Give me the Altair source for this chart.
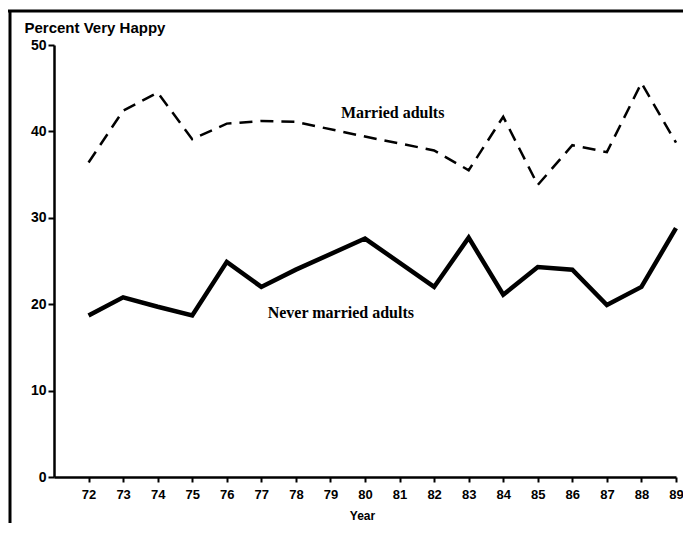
import altair as alt
import pandas as pd

# Survey years (no survey in 1979 and 1981)
years = [72, 73, 74, 75, 76, 77, 78, 80, 82, 83, 84, 85, 86, 87, 88, 89]
married = [36.4, 42.4, 44.5, 39.1, 40.9, 41.2, 41.1, 39.4, 37.8, 35.5, 41.7, 33.8, 38.4, 37.6, 45.6, 38.7]
never_married = [18.7, 20.8, 19.7, 18.7, 24.9, 22.0, 24.0, 27.6, 22.0, 27.7, 21.1, 24.3, 24.0, 19.9, 22.0, 28.8]

tick_years = list(range(72, 90))
y_ticks = [0, 10, 20, 30, 40, 50]

label_text = ["Married adults", "Never married adults"]
label_x = [80.8, 79.3]
label_y = [42.1, 19.0]

df = pd.DataFrame({
    "Year": years * 2,
    "Percent": married + never_married,
    "Group": ["Married adults"] * len(years) + ["Never married adults"] * len(years),
})
labels = pd.DataFrame({"text": label_text, "Year": label_x, "Percent": label_y})

x_scale = alt.Scale(domain=[71, 89], nice=False, zero=False)
y_scale = alt.Scale(domain=[0, 50], nice=False)

x_axis = alt.Axis(
    values=tick_years, title="Year", labelFont="Liberation Sans", labelFontWeight="bold",
    labelFontSize=13, labelColor="black", tickColor="black", tickSize=5, tickWidth=2,
    domainColor="black", domainWidth=2.5, labelPadding=6, grid=False,
    labelOverlap=False, labelFlush=False, tickCount=18,
    titleFont="Liberation Sans", titleFontWeight="bold", titleFontSize=12, titleColor="black",
    titleX=308, titleY=38, titleAlign="center", titleBaseline="middle",
)
y_axis = alt.Axis(
    values=y_ticks, title="Percent Very Happy", labelFont="Liberation Sans", labelFontWeight="bold",
    labelFontSize=14, labelColor="black", tickColor="black", tickSize=6, tickWidth=2,
    domainColor="black", domainWidth=2.5, labelPadding=2, grid=False,
    labelOverlap=False, labelFlush=False,
    titleFont="Liberation Sans", titleFontWeight="bold", titleFontSize=15, titleColor="black",
    titleAngle=0, titleX=-30, titleY=-13, titleAlign="left", titleBaseline="alphabetic",
)

X = alt.X("Year:Q", scale=x_scale, axis=x_axis)
Y = alt.Y("Percent:Q", scale=y_scale, axis=y_axis)

base = alt.Chart(df)

married_line = base.transform_filter(alt.datum.Group == "Married adults").mark_line(
    color="black", strokeWidth=2.5, strokeDash=[13, 8]
).encode(x=X, y=Y)

never_line = base.transform_filter(alt.datum.Group == "Never married adults").mark_line(
    color="black", strokeWidth=4.5, strokeJoin="miter"
).encode(x=X, y=Y)

text = alt.Chart(labels).mark_text(
    font="Liberation Serif", fontWeight="bold", fontSize=16, color="black",
    align="center", baseline="middle",
).encode(x=X, y=Y, text="text:N")

# scanned page frame (left and top edges)
frame_left = alt.Chart(pd.DataFrame({"a": [0]})).mark_rule(color="black", strokeWidth=3).encode(
    x=alt.value(-44), y=alt.value(-34), y2=alt.value(478)
)
frame_top = alt.Chart(pd.DataFrame({"a": [0]})).mark_rule(color="black", strokeWidth=3).encode(
    x=alt.value(-46), x2=alt.value(629), y=alt.value(-34)
)

chart = alt.layer(married_line, never_line, text, frame_left, frame_top).properties(
    width=622, height=432,
    autosize=alt.AutoSizeParams(type="none"),
    padding={"left": 46, "top": 37, "right": 7, "bottom": 46},
    background="white",
).configure_view(stroke=None)

chart.save("out.html", embed_options={"renderer": "svg", "actions": False})
